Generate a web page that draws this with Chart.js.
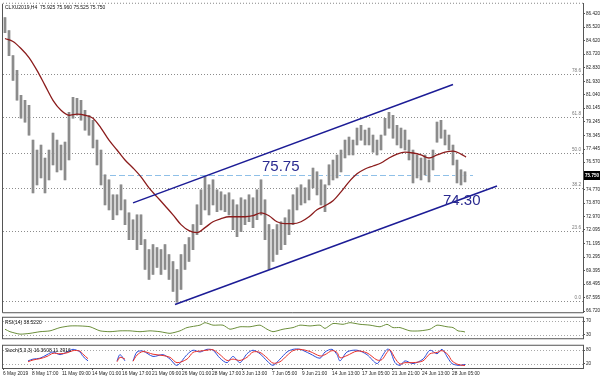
<!DOCTYPE html>
<html><head><meta charset="utf-8">
<script src="https://cdn.jsdelivr.net/npm/chart.js@4.4.1/dist/chart.umd.min.js"></script>
<style>
html,body{margin:0;padding:0;background:#fff;width:600px;height:376px;overflow:hidden}
.c{position:absolute;left:0;width:600px}
#main{top:0;height:316px}
#rsi{top:314px;height:28px}
#sto{top:342px;height:34px}
</style></head><body>
<div class="c" id="main"><canvas id="cMain"></canvas></div>
<div class="c" id="rsi"><canvas id="cRsi"></canvas></div>
<div class="c" id="sto"><canvas id="cSto"></canvas></div>
<script>
// ---------- data ----------
const symbolTitle = 'CLXU2019,H4  75.925 75.960 75.525 75.750';
const highs = [86.14,85.28,83.63,82.65,81.00,80.67,80.34,78.03,77.38,77.71,
 76.85,77.38,78.50,78.03,77.71,77.90,79.88,80.87,80.80,80.67,
 80.01,79.68,79.35,78.03,77.38,75.73,75.40,74.41,74.41,75.07,
 74.08,73.22,72.76,73.09,73.09,71.45,70.79,71.12,70.92,70.79,
 71.12,70.46,70.00,69.47,70.46,71.12,71.58,72.44,73.75,74.74,
 75.60,75.07,75.40,74.74,74.61,74.41,74.54,74.08,73.75,74.21,
 74.08,74.41,74.21,74.74,75.40,74.08,72.44,72.11,72.44,72.63,
 72.89,73.42,74.41,74.87,75.07,74.87,75.40,76.19,75.93,75.40,
 75.07,76.39,76.72,77.05,77.38,78.03,78.23,78.03,78.83,79.02,
 78.69,78.83,78.36,78.03,78.36,79.48,79.88,79.68,79.02,78.83,
 78.69,78.03,77.38,77.05,76.85,77.05,76.72,77.38,79.22,79.35,
 78.69,78.36,77.71,76.72,76.06,75.93];
const lows = [85.15,83.63,81.99,80.67,79.48,79.22,78.36,74.54,75.07,75.53,
 74.54,75.40,76.39,75.93,76.06,75.40,76.72,79.48,79.68,79.35,
 78.69,78.36,77.51,76.39,75.07,73.75,73.42,72.76,73.09,73.42,
 72.44,71.45,71.45,70.79,71.12,69.47,68.81,69.14,69.60,69.14,
 69.47,68.81,68.02,67.30,68.15,69.47,70.00,70.79,71.78,72.44,
 73.42,73.09,73.75,73.29,73.42,73.29,73.09,72.11,71.64,71.97,
 72.44,72.63,72.24,72.76,73.09,71.45,69.47,70.00,70.46,70.79,
 71.12,71.78,72.44,73.42,73.75,73.88,74.08,74.87,74.41,73.75,
 73.29,75.07,75.40,75.53,75.93,76.85,77.05,77.05,77.71,78.03,
 77.71,77.71,77.24,77.05,77.38,78.36,78.83,78.17,77.71,77.51,
 77.38,76.72,75.20,75.53,75.40,75.73,75.27,76.06,77.90,78.17,
 77.71,77.38,76.39,75.20,75.07,75.27];
const maIdx = [0,2,4,6,8,10,12,14,16,18,20,22,24,26,28,30,32,34,36,38,40,42,44,46,48,50,52,54,56,58,60,62,64,66,68,70,72,74,76,78,80,82,84,86,88,90,92,94,96,98,100,102,104,106,108,110,112,114,115.25];
const maVal = [84.76,84.56,84.10,83.50,82.65,81.66,80.67,80.01,79.68,79.75,79.68,79.48,78.83,78.03,77.38,76.72,76.19,75.60,74.87,74.28,73.69,73.09,72.44,72.04,71.91,72.24,72.63,72.83,72.96,72.96,72.96,73.03,73.22,73.03,72.63,72.50,72.50,72.63,72.96,73.42,73.69,74.02,74.61,75.27,75.80,76.12,76.32,76.52,76.85,77.11,77.24,77.18,77.05,76.85,77.05,77.24,77.31,77.11,76.91];
const upperIdx = [32,112], upperVal = [73.88,81.72];
const lowerIdx = [42.5,123], lowerVal = [67.15,75.00];
const priceTicks = [86.420,85.520,84.620,83.720,82.830,81.930,81.040,80.145,79.245,78.345,77.445,76.570,74.770,73.870,72.970,72.095,71.195,70.295,69.395,68.495,67.595,66.720];
const fibLevels = [82.43,79.57,77.20,74.85,71.99,67.38];
const fibLabels = ['78.6','61.8','50.0','38.2','23.6','0.0'];
const lastPrice = 75.75;
const labelA = '75.75', labelB = '74.30';
const rsiTitle = 'RSI(14) 38.5220';
const rsiIdx = [0,1.25,3.75,6.25,8.75,11.25,13.75,16.25,18.75,21.25,23.75,26.25,28.75,31.25,33.75,36.25,38.75,41.25,43.75,45.5,48.75,50,52,54.5,56.25,58.75,61.25,63.75,65.5,67,69.5,72,73.75,76.25,78.75,80,82,84.5,86.25,88.75,91.25,93.75,95.5,97,98.75,101.25,103.75,106.25,108,110.5,112,113.25,114.5,115];
const rsiVal = [46.5,39.4,32.4,34.7,39.4,41.8,51.2,55.9,55.9,53.5,41.8,39.4,41.8,41.8,39.4,41.8,39.4,34.7,41.8,51.2,58.2,65.3,58.2,58.2,46.5,53.5,53.5,58.2,46.5,39.4,46.5,51.2,58.2,55.9,58.2,48.8,62.9,60.6,65.3,60.6,58.2,53.5,60.6,51.2,51.2,41.8,41.8,46.5,58.2,53.5,51.2,41.8,40.0,38.5];
const rsiLevels = [70,30];
const stoTitle = 'Stoch(5,3,3) 16.3608 11.3916';
const stoIdx = [5.75,7,8.75,10.5,12,13.75,15.5,17,18.75,19.5,20.75,21.5,28,28.75,30,31,32,33,34.5,37,39.5,41.25,43,45.5,47,48.75,50.5,52,53.75,55.5,57,58.75,60.5,62,63.75,65.5,67,68.75,70.5,72,73.75,76.25,78.75,80,81.75,83,83.75,85.5,88,90.5,93,94.25,95.5,96.25,97.5,98.75,100,102,104.5,106.25,108,109.25,110.75,111.75,113.25,114.5,115];
const stoMain = [32,40,44,60,72,60,72,84,72,52,32,null,32,60,32,null,32,72,76,52,60,40,12,60,80,72,84,80,44,24,52,24,64,80,64,32,12,40,72,84,84,64,44,72,84,60,32,72,80,60,20,52,84,80,24,12,32,20,40,80,64,84,44,20,12,14,16.4];
const stoSignal = [28,36,42,52,66,64,68,78,76,62,42,null,28,48,40,null,30,58,74,62,56,48,24,40,70,76,80,82,60,34,40,34,48,72,70,46,22,28,56,78,84,74,54,60,78,70,46,56,76,68,36,38,70,82,44,18,24,24,32,64,70,78,60,32,16,12,11.4];
const stoLevels = [80,20];
const timeTickIdx = [-0.5,6.75,14.25,21.75,29.25,36.75,44.25,51.75,59.25,66.75,74.25,81.75,89.25,96.75,104.25,111.75];
const timeLabels = ['6 May 2019','8 May 17:00','11 May 09:00','14 May 01:00','16 May 17:00','21 May 09:00','26 May 01:00','28 May 17:00','3 Jun 13:00','7 Jun 05:00','9 Jun 21:00','14 Jun 13:00','17 Jun 05:00','21 Jun 21:00','24 Jun 13:00','28 Jun 05:00'];

// ---------- setup ----------
const FONT = '"Liberation Sans", Arial, sans-serif';
const NARROW = '"Liberation Sans Narrow", "Liberation Sans", Arial, sans-serif';
Chart.defaults.font.family = FONT;
Chart.defaults.animation = false;
const XMIN = -0.5, XMAX = 144.5, AXISW = 17;
const pts = (xs, ys) => xs.map((x, i) => ({x, y: ys[i]}));
const barData = highs.map((h, i) => ({x:i, y:[lows[i], h]}));

function yAxis(min, max, vals, fmt) {
  return {position:'right', min, max,
    afterBuildTicks(s){ s.ticks = vals.map(v => ({value:v})); },
    afterFit(s){ s.width = AXISW; },
    ticks:{callback:v => fmt(v), font:{size:4.6}, color:'#222', padding:1, autoSkip:false},
    grid:{drawOnChartArea:false, drawTicks:true, tickLength:2, color:'#555'},
    border:{display:true, color:'#555'}};
}
const hiddenX = {type:'linear', min:XMIN, max:XMAX, offset:false, display:false};
const basePlugins = {legend:{display:false}, tooltip:{enabled:false}};

const mainDecor = {
  id:'mainDecor',
  beforeDatasetsDraw(chart){
    const {ctx, chartArea:a, scales:{x, y}} = chart;
    ctx.save();
    ctx.lineWidth = 1;
    ctx.font = '4.6px ' + FONT;
    fibLevels.forEach((lv, k) => {
      const py = Math.round(y.getPixelForValue(lv)) + 0.5;
      ctx.strokeStyle = '#8c8c8c'; ctx.setLineDash([1,2]);
      ctx.beginPath(); ctx.moveTo(a.left, py); ctx.lineTo(a.right, py); ctx.stroke();
      ctx.fillStyle = '#777'; ctx.textAlign = 'right'; ctx.textBaseline = 'bottom';
      ctx.fillText(fibLabels[k], a.right - 2, py - 1);
    });
    const py = Math.round(y.getPixelForValue(lastPrice)) + 0.5;
    ctx.strokeStyle = '#8fc0e8'; ctx.setLineDash([6,3]);
    ctx.beginPath(); ctx.moveTo(x.getPixelForValue(24), py); ctx.lineTo(x.getPixelForValue(117), py); ctx.stroke();
    ctx.restore();
  },
  afterDatasetsDraw(chart){
    const {ctx, scales:{x, y}} = chart;
    ctx.save();
    ctx.fillStyle = '#2a2a90';
    ctx.font = '15px ' + FONT;
    ctx.textAlign = 'left';
    ctx.textBaseline = 'bottom';
    ctx.fillText(labelA, x.getPixelForValue(64.25), y.getPixelForValue(lastPrice));
    ctx.textBaseline = 'middle';
    ctx.fillText(labelB, x.getPixelForValue(109.5), y.getPixelForValue(74.0));
    ctx.restore();
  },
  afterDraw(chart){
    const {ctx, chartArea:a, scales:{y}} = chart;
    ctx.save();
    ctx.lineWidth = 1;
    ctx.strokeStyle = '#555';
    ctx.beginPath();
    ctx.moveTo(a.left - 0.5, a.top); ctx.lineTo(a.left - 0.5, a.bottom + 0.5);
    ctx.lineTo(a.right, a.bottom + 0.5);
    ctx.stroke();
    ctx.strokeStyle = '#888'; ctx.setLineDash([1,2]);
    ctx.beginPath(); ctx.moveTo(a.left, a.top - 0.5); ctx.lineTo(a.right, a.top - 0.5); ctx.stroke();
    ctx.setLineDash([]);
    const py = y.getPixelForValue(lastPrice);
    ctx.fillStyle = '#000';
    ctx.fillRect(a.right + 1, Math.round(py) - 4, 600 - a.right - 1, 9);
    ctx.fillStyle = '#fff';
    ctx.font = 'bold 4.6px ' + FONT;
    ctx.textAlign = 'left'; ctx.textBaseline = 'middle';
    ctx.fillText(lastPrice.toFixed(3), a.right + 2, Math.round(py) + 0.5);
    ctx.fillStyle = '#111';
    ctx.font = '5px ' + FONT;
    ctx.textBaseline = 'top';
    ctx.fillText(symbolTitle, a.left + 2, a.top + 1);
    ctx.restore();
  }
};

function panelDecor(id, levels, title){
  return {id,
    beforeDatasetsDraw(chart){
      const {ctx, chartArea:a, scales:{y}} = chart;
      ctx.save(); ctx.strokeStyle = '#a8a8a8'; ctx.lineWidth = 1; ctx.setLineDash([1,2]);
      levels.forEach(v => { const py = Math.round(y.getPixelForValue(v)) + 0.5;
        ctx.beginPath(); ctx.moveTo(a.left, py); ctx.lineTo(a.right, py); ctx.stroke(); });
      ctx.restore();
    },
    afterDraw(chart){
      const {ctx, chartArea:a} = chart;
      ctx.save(); ctx.strokeStyle = '#555'; ctx.lineWidth = 1;
      ctx.strokeRect(a.left - 0.5, a.top - 0.5, a.right - a.left + 1, a.bottom - a.top + 1);
      ctx.fillStyle = '#111'; ctx.font = '5px ' + FONT; ctx.textBaseline = 'top'; ctx.textAlign = 'left';
      ctx.fillText(title, a.left + 2, a.top + 2);
      ctx.restore();
    }};
}

// ---------- main chart ----------
new Chart(document.getElementById('cMain'), {
  type:'bar',
  data:{datasets:[
    {type:'line', data:pts(upperIdx, upperVal), borderColor:'#1c1c96', borderWidth:1.5, pointRadius:0, order:1},
    {type:'line', data:pts(lowerIdx, lowerVal), borderColor:'#1c1c96', borderWidth:1.5, pointRadius:0, order:1},
    {type:'line', data:pts(maIdx, maVal), borderColor:'#8b1c1c', borderWidth:1.3, pointRadius:0, cubicInterpolationMode:'monotone', order:2},
    {type:'bar', data:barData, backgroundColor:'#7e7e7e', barThickness:1, grouped:false, order:3},
    {type:'bar', data:barData, backgroundColor:'#cdcdcd', barThickness:3, grouped:false, order:4}
  ]},
  options:{responsive:true, maintainAspectRatio:false, events:[],
    layout:{padding:{left:3, right:0, top:3, bottom:3}},
    scales:{x:hiddenX, y:yAxis(66.64, 87.06, priceTicks, v => v.toFixed(3))},
    plugins:basePlugins},
  plugins:[mainDecor]
});

// ---------- RSI ----------
new Chart(document.getElementById('cRsi'), {
  type:'line',
  data:{datasets:[{data:pts(rsiIdx, rsiVal), borderColor:'#6b8e3a', borderWidth:1, pointRadius:0, tension:0.2}]},
  options:{responsive:true, maintainAspectRatio:false, events:[],
    layout:{padding:{left:3, right:0, top:2, bottom:1}},
    scales:{x:hiddenX, y:yAxis(20.6, 79.4, rsiLevels, v => String(v))},
    plugins:basePlugins},
  plugins:[panelDecor('rsiDecor', rsiLevels, rsiTitle)]
});

// ---------- Stochastic ----------
new Chart(document.getElementById('cSto'), {
  type:'line',
  data:{datasets:[
    {data:pts(stoIdx, stoSignal), borderColor:'#e8302a', borderWidth:1, pointRadius:0, tension:0.3},
    {data:pts(stoIdx, stoMain), borderColor:'#2b4bd8', borderWidth:1, pointRadius:0, tension:0.3}
  ]},
  options:{responsive:true, maintainAspectRatio:false, events:[],
    layout:{padding:{left:3, right:0, top:1, bottom:0}},
    scales:{
      x:{type:'linear', min:XMIN, max:XMAX, offset:false, position:'bottom',
        afterBuildTicks(s){ s.ticks = timeTickIdx.map(v => ({value:v})); },
        afterFit(s){ s.height = 8; },
        ticks:{callback:(v, i) => timeLabels[i], autoSkip:false, maxRotation:0, minRotation:0, align:'start', font:{size:4.8, family:NARROW}, color:'#222', padding:1},
        grid:{drawOnChartArea:false, drawTicks:true, tickLength:2, color:'#555'},
        border:{display:true, color:'#555'}},
      y:yAxis(0, 100, stoLevels, v => String(v))},
    plugins:basePlugins},
  plugins:[panelDecor('stoDecor', stoLevels, stoTitle)]
});
</script>
</body></html>
